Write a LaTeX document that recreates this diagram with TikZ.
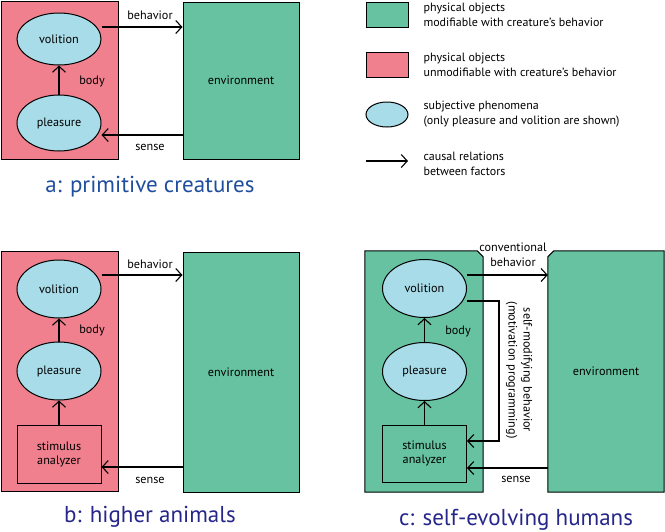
\documentclass[tikz,border=0pt]{standalone}
\usepackage{fontspec}
\setmainfont{PT Sans}
\usetikzlibrary{positioning,shapes.geometric,arrows.meta}
\definecolor{modgreen}{RGB}{102,194,160}
\definecolor{fixpink}{RGB}{240,128,142}
\definecolor{subjblue}{RGB}{168,220,232}
\definecolor{titlea}{RGB}{31,78,158}
\definecolor{titlebc}{RGB}{38,38,138}
\begin{document}
\begin{tikzpicture}[
x=1pt,y=-1pt,
every node/.style={font=\fontsize{12.2}{14}\selectfont},
obj/.style={draw,line width=1pt,rectangle,inner sep=0pt},
modobj/.style={obj,fill=modgreen},
fixobj/.style={obj,fill=fixpink},
subj/.style={draw,line width=1pt,ellipse,fill=subjblue,inner sep=0pt,minimum width=84pt,minimum height=58pt},
cause/.style={line width=1.1pt,-{Straight Barb[length=6pt,width=13pt]}},
caption/.style={font=\fontsize{23}{26}\selectfont},
legend/.style={anchor=west,align=left,font=\fontsize{12}{15}\selectfont},
frame/.style={inner sep=0pt},
]
\useasboundingbox (0,0) rectangle (665,531);

% a: primitive creatures
\node[fixobj,minimum width=117pt,minimum height=158pt] (bodya) at (59.5,80) {};
\node[modobj,minimum width=116pt,minimum height=157pt] (enva) at (241,80.5) {environment};
\node[subj,minimum height=52pt] (vola) at (59,39) {volition};
\node[subj,minimum height=56pt] (plea) at (59,123) {pleasure};
\node (bodytxta) at (92,81) {body};
\draw[cause] (plea) -- (vola);
\draw[cause] ([yshift=12pt]vola.east) coordinate (ba) -- (ba -| enva.west);
\coordinate (sa) at ([yshift=-12pt]plea.east);
\draw[cause] (sa -| enva.west) -- (sa);
\node (behava) at (150,15) {behavior};
\node (sensea) at (150,147) {sense};
\node[caption,text=titlea] (titlea) at (150,187) {a: primitive creatures};

% b: higher animals
\node[fixobj,minimum width=117pt,minimum height=240pt] (bodyb) at (59.5,371) {};
\node[modobj,minimum width=116pt,minimum height=240pt] (envb) at (241,372) {environment};
\node[subj] (volb) at (59,289) {volition};
\node[subj] (pleb) at (59,371) {pleasure};
\node[fixobj,minimum width=84pt,minimum height=58pt,align=center] (stimb) at (59,454) {stimulus\\analyzer};
\node (bodytxtb) at (92,330) {body};
\draw[cause] (stimb) -- (pleb);
\draw[cause] (pleb) -- (volb);
\draw[cause] ([yshift=14pt]volb.east) coordinate (bb) -- (bb -| envb.west);
\coordinate (sb) at ([yshift=-13pt]stimb.east);
\draw[cause] (sb -| envb.west) -- (sb);
\node (behavb) at (150,264) {behavior};
\node (senseb) at (150,480) {sense};
\node[caption,text=titlebc] (titleb) at (150,517) {b: higher animals};

% c: self-evolving humans
\node[frame,minimum width=118pt,minimum height=241pt] (bodyc) at (424,371.5) {};
\node[frame,minimum width=116pt,minimum height=241pt] (envc) at (606,371.5) {};
\draw[line width=1pt,fill=modgreen] (bodyc.south west) -- (bodyc.north west) -- ([xshift=-6pt]bodyc.north east)
  -- ([yshift=-6pt]bodyc.north east) -- (bodyc.south east) -- cycle;
\draw[line width=1pt,fill=modgreen] (envc.south west) -- ([yshift=-6pt]envc.north west) -- ([xshift=6pt]envc.north west)
  -- (envc.north east) -- (envc.south east) -- cycle;
\node (envtxtc) at (envc) {environment};
\node[subj] (volc) at (424.5,288.5) {volition};
\node[subj] (plec) at (424.5,371.5) {pleasure};
\node[modobj,minimum width=84pt,minimum height=57pt,align=center] (stimc) at (424.5,453.5) {stimulus\\analyzer};
\node (bodytxtc) at (458,331) {body};
\draw[cause] (stimc) -- (plec);
\draw[cause] (plec) -- (volc);
\draw[cause] ([yshift=13.5pt]volc.east) coordinate (bc) -- (bc -| envc.west);
\draw[cause] ([yshift=-12.5pt]volc.east) -- ++(32,0) |- ([yshift=12.5pt]stimc.east);
\coordinate (sc) at ([yshift=-14.5pt]stimc.east);
\draw[cause] (sc -| envc.west) -- (sc);
\node[align=center,font=\fontsize{12.2}{15}\selectfont] (behavc) at (513,255) {conventional\\behavior};
\node[align=center,rotate=-90,font=\fontsize{12.2}{15}\selectfont] (selfmod) at (519,370) {self-modifying behavior\\(motivation programming)};
\node (sensec) at (516,479) {sense};
\node[caption,text=titlebc] (titlec) at (516,520) {c: self-evolving humans};

% legend
\node[modobj,minimum width=42pt,minimum height=25pt] (lgmod) at (387,14.5) {};
\node[legend] (lgmodtxt) at (420,14.5) {physical objects\\modifiable with creature's behavior};
\node[fixobj,minimum width=42pt,minimum height=25pt] (lgfix) at (387,64.5) {};
\node[legend] (lgfixtxt) at (420,64.5) {physical objects\\unmodifiable with creature's behavior};
\node[subj,minimum width=42pt,minimum height=25pt] (lgsubj) at (387,114.5) {};
\node[legend] (lgsubjtxt) at (420,114.5) {subjective phenomena\\(only pleasure and volition are shown)};
\coordinate (lgfrom) at (366,161);
\coordinate (lgto) at (408,161);
\draw[cause] (lgfrom) -- (lgto);
\node[legend] (lgcausetxt) at (420,163.5) {causal relations\\between factors};
\end{tikzpicture}
\end{document}
